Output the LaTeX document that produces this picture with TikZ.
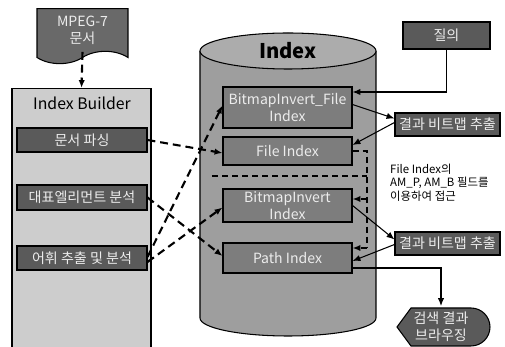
\documentclass[tikz,border=0pt]{standalone}
\usepackage{fontspec}
\setmainfont{Noto Sans CJK KR}
\usetikzlibrary{arrows.meta,calc,shapes.symbols}

\begin{document}
\begin{tikzpicture}[
  x=0.02cm, y=-0.02cm,
  >={Latex[length=4.5pt,width=3.6pt]},
  font=\fontsize{8}{9.5}\selectfont,
  box/.style={draw=black,line width=0.6pt,inner sep=1pt,align=center},
  darkbox/.style={box,fill=darkfill,text=lighttext},
  idxbox/.style={box,fill=idxfill,text=lighttext},
  link/.style={->,line width=0.6pt},
  dline/.style={line width=1pt,dash pattern=on 3.5pt off 2.2pt},
  dlink/.style={->,line width=1.2pt,dash pattern=on 4.5pt off 2.8pt}
]
\definecolor{darkfill}{RGB}{90,90,90}
\definecolor{docfill}{RGB}{105,105,105}
\definecolor{builderfill}{RGB}{205,205,205}
\definecolor{cylfill}{RGB}{158,158,158}
\definecolor{cyltop}{RGB}{172,172,172}
\definecolor{idxfill}{RGB}{125,125,125}
\definecolor{lighttext}{RGB}{236,236,236}

\useasboundingbox (0,0) rectangle (505,347);
\fill[white] (0,0) rectangle (505,347);

% Source document and the builder column.
\node[box,shape=tape,tape bend top=none,tape bend bottom=in and out,tape bend height=7pt,
  fill=docfill,text=lighttext,minimum width=1.82cm,minimum height=1.1cm]
  (doc) at (82.5,30) {MPEG-7\\문서};
\node[box,fill=builderfill,minimum width=2.78cm,minimum height=5.3cm] (builder) at (81.5,221) {};
\node[font=\fontsize{9}{10}\selectfont] (buildertitle) at (82,103) {Index Builder};
\draw[dlink] (doc.south) -- (builder.north);

\node[darkbox,minimum width=2.6cm,minimum height=0.48cm] (parse) at (82,140) {문서 파싱};
\node[darkbox,minimum width=2.6cm,minimum height=0.5cm] (elem) at (82,197.5) {대표엘리먼트 분석};
\node[darkbox,minimum width=2.6cm,minimum height=0.48cm] (term) at (82,258) {어휘 추출 및 분석};

% Index store as a cylinder.
\fill[cylfill] (200,51) -- (200,318) arc[start angle=180,end angle=0,x radius=88,y radius=18]
  -- (376,51) arc[start angle=0,end angle=-180,x radius=88,y radius=18] -- cycle;
\draw[line width=0.6pt] (200,51) -- (200,318) arc[start angle=180,end angle=0,x radius=88,y radius=18]
  -- (376,51);
\draw[line width=0.6pt,fill=cyltop] (288,51) ellipse[x radius=88,y radius=18];
\node[font=\fontsize{11.5}{13}\selectfont\bfseries] (indextitle) at (288,51) {Index};

\node[idxbox,minimum width=2.58cm,minimum height=0.82cm] (bfile) at (287.5,107.5) {BitmapInvert\_File\\Index};
\node[idxbox,minimum width=2.58cm,minimum height=0.56cm] (file) at (287.5,151) {File Index};
\node[idxbox,minimum width=2.58cm,minimum height=0.66cm] (binv) at (287.5,205.5) {BitmapInvert\\Index};
\node[idxbox,minimum width=2.58cm,minimum height=0.6cm] (path) at (287.5,258) {Path Index};

% Access through the File Index fields.
\coordinate (divl) at (212,176);
\coordinate (divr) at (367,176);
\coordinate (brtop) at (367,151);
\coordinate (brmid) at (367,199);
\coordinate (brbot) at (367,248);
\draw[dline] (divl) -- (divr);
\draw[dline] (file.east) -- (brtop) -- (brbot);
\draw[dline,->] (brmid) -- (brmid -| binv.east);
\draw[dline,->] (brbot) -- (brbot -| path.east);

% Builder outputs.
\draw[dlink] (parse.east) -- ($(file.west)+(0,2)$);
\draw[dlink] (elem.east) -- ($(path.west)+(0,-2)$);
\draw[dlink] ($(term.east)+(0,-1)$) -- ($(bfile.west)+(0,-2)$);
\draw[dlink] ($(term.east)+(0,4)$) -- ($(binv.west)+(0,2)$);

% Query and results.
\node[darkbox,minimum width=1.74cm,minimum height=0.54cm] (query) at (446.5,35.5) {질의};
\node[darkbox,minimum width=2.1cm,minimum height=0.46cm] (res1) at (447.5,124.5) {결과 비트맵 추출};
\node[darkbox,minimum width=2.1cm,minimum height=0.46cm] (res2) at (447.5,243.5) {결과 비트맵 추출};

\draw[link] (query.south) |- ($(bfile.east)+(0,-15.5)$);
\draw[link] ($(bfile.east)+(0,-3)$) -- ($(res1.west)+(0,-6)$);
\draw[link] ($(res1.west)+(0,-2)$) -- ($(file.east)+(0,-6)$);
\draw[link] (binv.east) -- ($(res2.west)+(0,-4)$);
\draw[link] ($(res2.west)+(0,1)$) -- ($(path.east)+(0,3)$);

\node[align=left,anchor=north west,font=\fontsize{6.5}{7.6}\selectfont] (note) at (384,158)
  {File Index의\\AM\_P, AM\_B 필드를\\이용하여 접근};

% Browsing of the search result.
\draw[line width=0.6pt,fill=darkfill] (397,327) -- (411,308) -- (471,308)
  arc[start angle=-90,end angle=90,radius=19] -- (411,346) -- cycle;
\node[align=center,text=lighttext,minimum width=1.86cm,minimum height=0.76cm] (browse) at (441,327)
  {검색 결과\\브라우징};
\draw[link] ($(path.east)+(0,10)$) -| (browse.north);
\end{tikzpicture}
\end{document}
